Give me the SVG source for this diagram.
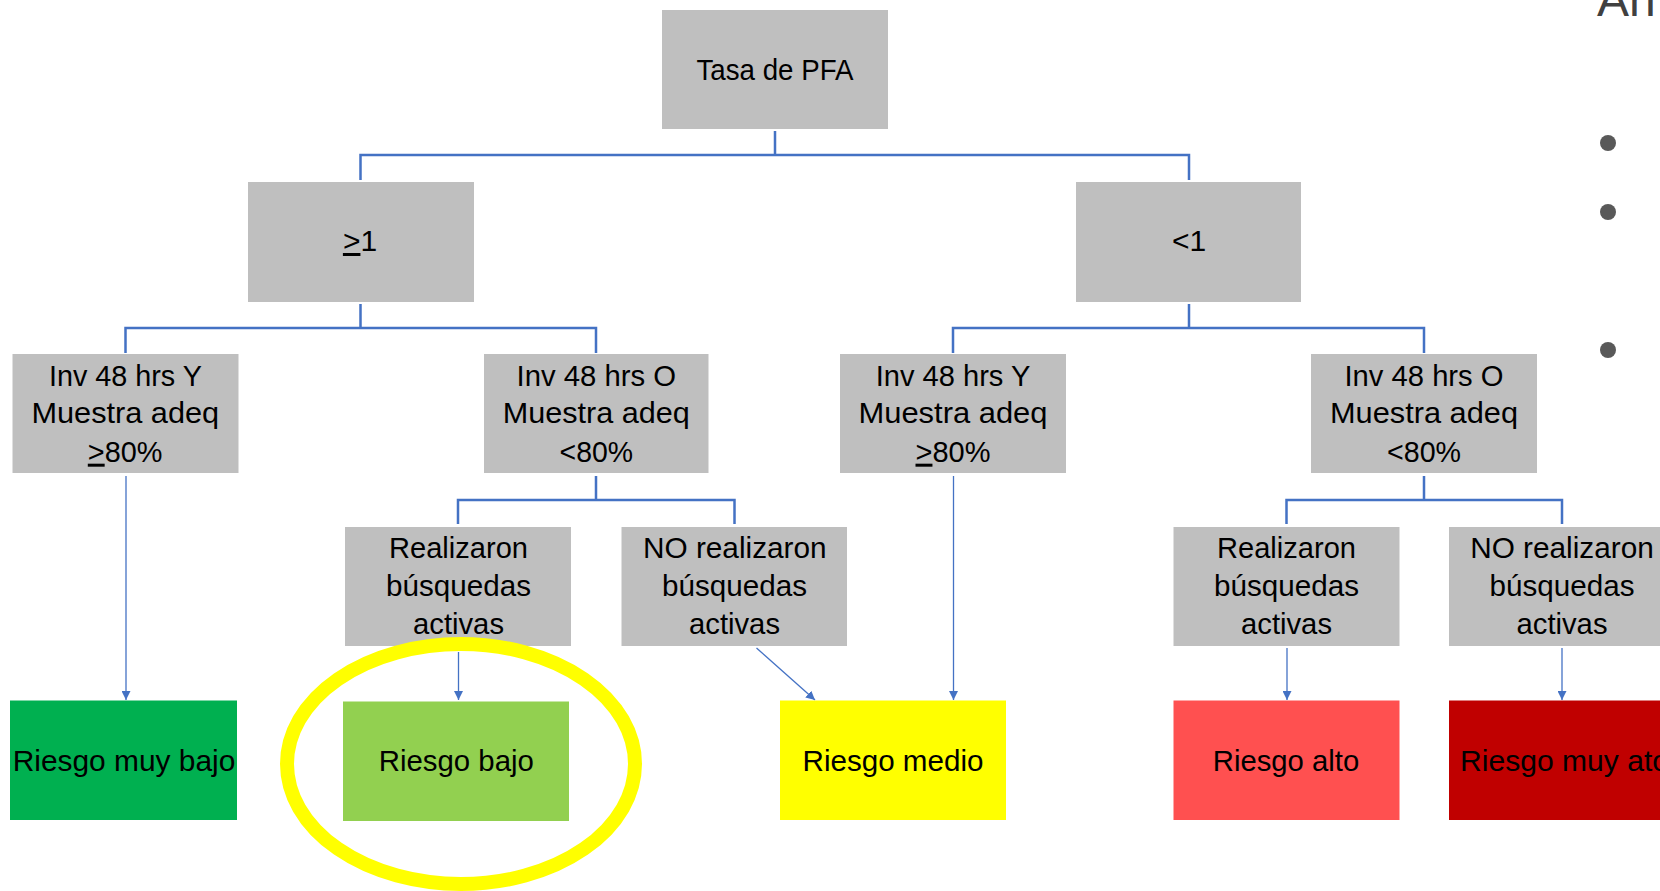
<svg xmlns="http://www.w3.org/2000/svg" width="1660" height="891" viewBox="0 0 1660 891">
<defs>
<style>
.box{fill:#BFBFBF}
.t{font-family:"Liberation Sans",Arial,sans-serif;font-size:30px;fill:#000;text-anchor:middle}
.u{text-decoration:underline}
.tree{fill:none;stroke:#4472C4;stroke-width:2.5}
.arr{fill:none;stroke:#4472C4;stroke-width:1.3;marker-end:url(#ah)}
</style>
<marker id="ah" viewBox="0 0 10 10" refX="10" refY="5" markerWidth="9" markerHeight="9" markerUnits="userSpaceOnUse" orient="auto">
<path d="M0,0 L10,5 L0,10 z" fill="#4472C4"/>
</marker>
</defs>
<rect width="1660" height="891" fill="#FFFFFF"/>

<g id="side">
<text x="1597" y="16" font-family="Liberation Sans,Arial,sans-serif" font-size="48" fill="#404040">An</text>
<circle cx="1608" cy="143" r="8" fill="#595959"/>
<circle cx="1608" cy="212" r="8" fill="#595959"/>
<circle cx="1608" cy="350" r="8" fill="#595959"/>
</g>

<g id="connectors">
<path class="tree" d="M775,131 V155 M360.5,180 V155 H1189 V180"/>
<path class="tree" d="M360.5,304 V328 M125.5,353 V328 H596 V353"/>
<path class="tree" d="M1189,304 V328 M953,353 V328 H1424 V353"/>
<path class="tree" d="M596,476 V500 M458,524 V500 H734.5 V524"/>
<path class="tree" d="M1424,476 V500 M1286.5,524 V500 H1562 V524"/>
<path class="arr" d="M126,476 V700"/>
<path class="arr" d="M458.5,652 V700"/>
<path class="arr" d="M756.5,648 L815,700"/>
<path class="arr" d="M953.5,476 V700"/>
<path class="arr" d="M1287,648 V700"/>
<path class="arr" d="M1562,648 V700"/>
</g>

<g id="n-tasa">
<rect class="box" x="662" y="10" width="226" height="119"/>
<text class="t" x="775" y="80" textLength="157" lengthAdjust="spacingAndGlyphs">Tasa de PFA</text>
</g>
<g id="n-ge1">
<rect class="box" x="248" y="182" width="226" height="120"/>
<text class="t" x="360" y="251"><tspan class="u">&gt;</tspan>1</text>
</g>
<g id="n-lt1">
<rect class="box" x="1076" y="182" width="225" height="120"/>
<text class="t" x="1189" y="251">&lt;1</text>
</g>

<g id="n-inv-y-1">
<rect class="box" x="12.5" y="354" width="226" height="119"/>
<text class="t" x="125.4" y="385.7" textLength="153" lengthAdjust="spacingAndGlyphs">Inv 48 hrs Y</text>
<text class="t" x="125.3" y="423.3" textLength="187.7" lengthAdjust="spacingAndGlyphs">Muestra adeq</text>
<text class="t" x="125.1" y="461.7" textLength="74.6" lengthAdjust="spacingAndGlyphs"><tspan class="u">&gt;</tspan>80%</text>
</g>
<g id="n-inv-o-1">
<rect class="box" x="484" y="354" width="224.5" height="119"/>
<text class="t" x="596.3" y="385.7" textLength="159.6" lengthAdjust="spacingAndGlyphs">Inv 48 hrs O</text>
<text class="t" x="596.3" y="423.3" textLength="187" lengthAdjust="spacingAndGlyphs">Muestra adeq</text>
<text class="t" x="596.3" y="461.7" textLength="73.5" lengthAdjust="spacingAndGlyphs">&lt;80%</text>
</g>
<g id="n-inv-y-2">
<rect class="box" x="840" y="354" width="226" height="119"/>
<text class="t" x="953" y="385.7" textLength="154.7" lengthAdjust="spacingAndGlyphs">Inv 48 hrs Y</text>
<text class="t" x="953" y="423.3" textLength="189" lengthAdjust="spacingAndGlyphs">Muestra adeq</text>
<text class="t" x="953" y="461.7" textLength="75" lengthAdjust="spacingAndGlyphs"><tspan class="u">&gt;</tspan>80%</text>
</g>
<g id="n-inv-o-2">
<rect class="box" x="1311" y="354" width="226" height="119"/>
<text class="t" x="1424" y="385.7" textLength="159" lengthAdjust="spacingAndGlyphs">Inv 48 hrs O</text>
<text class="t" x="1424" y="423.3" textLength="188" lengthAdjust="spacingAndGlyphs">Muestra adeq</text>
<text class="t" x="1424" y="461.7" textLength="74" lengthAdjust="spacingAndGlyphs">&lt;80%</text>
</g>

<g id="n-real-1">
<rect class="box" x="345" y="527" width="226" height="119"/>
<text class="t" x="458.5" y="558.3" textLength="139" lengthAdjust="spacingAndGlyphs">Realizaron</text>
<text class="t" x="458.5" y="595.7" textLength="145" lengthAdjust="spacingAndGlyphs">búsquedas</text>
<text class="t" x="458.5" y="634" textLength="91" lengthAdjust="spacingAndGlyphs">activas</text>
</g>
<g id="n-noreal-1">
<rect class="box" x="621.5" y="527" width="225.5" height="119"/>
<text class="t" x="734.8" y="558.3" textLength="183.7" lengthAdjust="spacingAndGlyphs">NO realizaron</text>
<text class="t" x="734.5" y="595.7" textLength="145" lengthAdjust="spacingAndGlyphs">búsquedas</text>
<text class="t" x="734.5" y="634" textLength="91" lengthAdjust="spacingAndGlyphs">activas</text>
</g>
<g id="n-real-2">
<rect class="box" x="1173.5" y="527" width="226" height="119"/>
<text class="t" x="1286.5" y="558.3" textLength="139" lengthAdjust="spacingAndGlyphs">Realizaron</text>
<text class="t" x="1286.5" y="595.7" textLength="145" lengthAdjust="spacingAndGlyphs">búsquedas</text>
<text class="t" x="1286.5" y="634" textLength="91" lengthAdjust="spacingAndGlyphs">activas</text>
</g>
<g id="n-noreal-2">
<rect class="box" x="1449" y="527" width="226" height="119"/>
<text class="t" x="1562" y="558.3" textLength="183.7" lengthAdjust="spacingAndGlyphs">NO realizaron</text>
<text class="t" x="1562" y="595.7" textLength="145" lengthAdjust="spacingAndGlyphs">búsquedas</text>
<text class="t" x="1562" y="634" textLength="91" lengthAdjust="spacingAndGlyphs">activas</text>
</g>

<g id="n-muybajo">
<rect x="10" y="700.5" width="227" height="119.5" fill="#00B050"/>
<text class="t" x="124" y="770.7" textLength="222.7" lengthAdjust="spacingAndGlyphs">Riesgo muy bajo</text>
</g>
<g id="n-bajo">
<rect x="343" y="701.5" width="226" height="119.5" fill="#92D050"/>
<text class="t" x="456.3" y="770.7" textLength="155" lengthAdjust="spacingAndGlyphs">Riesgo bajo</text>
</g>
<g id="n-medio">
<rect x="780" y="700.5" width="226" height="119.5" fill="#FFFF00"/>
<text class="t" x="893" y="770.7" textLength="181" lengthAdjust="spacingAndGlyphs">Riesgo medio</text>
</g>
<g id="n-alto">
<rect x="1173.5" y="700.5" width="226" height="119.5" fill="#FF5050"/>
<text class="t" x="1286" y="770.7" textLength="146.5" lengthAdjust="spacingAndGlyphs">Riesgo alto</text>
</g>
<g id="n-muyalto">
<rect x="1449" y="700.5" width="226" height="119.5" fill="#C00000"/>
<text class="t" x="1460" y="770.7" style="text-anchor:start" textLength="209" lengthAdjust="spacingAndGlyphs">Riesgo muy ato</text>
</g>

<g id="highlight">
<ellipse cx="461" cy="764" rx="174" ry="120" fill="none" stroke="#FFFF00" stroke-width="14"/>
</g>
</svg>
